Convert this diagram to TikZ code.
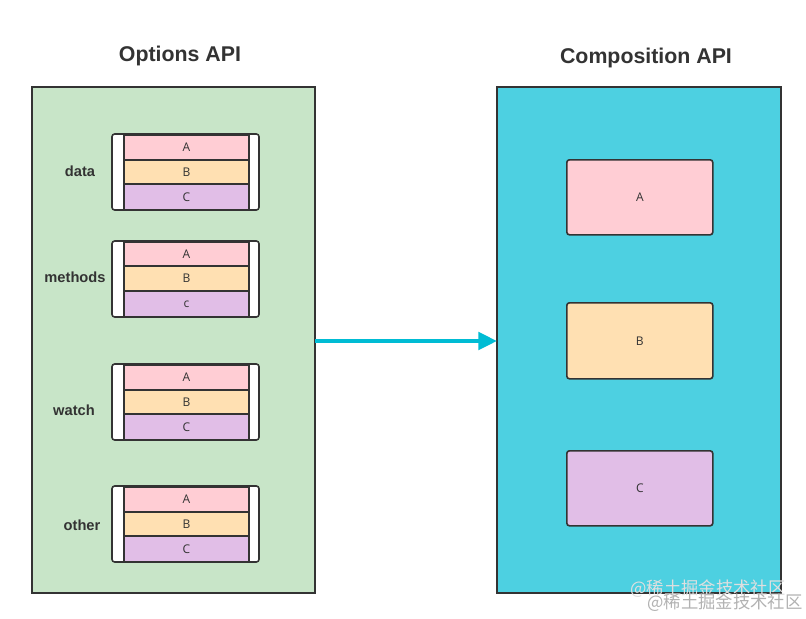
\documentclass[tikz,border=0pt]{standalone}
\usepackage{fontspec}
\setmainfont{Open Sans}
\newfontfamily\titlefont{Liberation Sans}
\newfontfamily\cjk{Noto Sans CJK SC}
\usetikzlibrary{arrows.meta}
\definecolor{pnl}{HTML}{C8E5C8}
\definecolor{cyanp}{HTML}{4DD0E1}
\definecolor{pk}{HTML}{FFCDD4}
\definecolor{og}{HTML}{FFE0B2}
\definecolor{pu}{HTML}{E1BEE7}
\definecolor{ln}{HTML}{333333}
\definecolor{arr}{HTML}{00BCD4}
\tikzset{
 panel/.style={draw=ln,line width=1.2pt},
 grp/.style={draw=ln,fill=white,rounded corners=2pt,line width=1.2pt},
 bar/.style={draw=ln,line width=1.5pt,font=\fontsize{9}{10}\selectfont,text=ln},
 title/.style={font=\titlefont\bfseries\fontsize{16}{18}\selectfont,text=ln},
 lab/.style={font=\titlefont\bfseries\fontsize{11}{13}\selectfont,text=ln},
 big/.style={draw=ln,line width=1.2pt,rounded corners=2pt,font=\fontsize{9}{10}\selectfont,text=ln},
}
\begin{document}
\begin{tikzpicture}[x=0.75pt,y=-0.75pt]
\useasboundingbox (0,0) rectangle (806,618);
\fill[white] (0,0) rectangle (806,618);
\node[title] (t1) at (180,56) {Options API};
\node[title] (t2) at (646,58) {Composition API};
\draw[panel,fill=pnl] (32,87) rectangle (315,593);
\draw[panel,fill=cyanp] (497,87) rectangle (781,593);
\coordinate (pl) at (315,341);
\coordinate (pr) at (497,341);
\draw[arr,line width=3pt,-{Triangle[length=14pt,width=13pt]}] (pl) -- (pr);
\foreach \y/\a/\b/\c/\d/\lx/\lt/\cc [count=\i] in
 {134/159/183/209/171/80/data/C, 241/265/290/316/277/75/methods/c, 364/389/413/439/410/74/watch/C, 486/511/535/561/525/82/other/C}{
 \draw[grp] (112,\y) rectangle (259,\c+1);
 \node[bar,fill=pk,minimum width=125*0.75pt,minimum height=(\a-\y)*0.75pt,inner sep=0pt,anchor=north west] (ga\i) at (123,\y) {A};
 \node[bar,fill=og,minimum width=125*0.75pt,minimum height=(\b-\a)*0.75pt,inner sep=0pt,anchor=north west] (gb\i) at (123,\a) {B};
 \node[bar,fill=pu,minimum width=125*0.75pt,minimum height=(\c-\b)*0.75pt,inner sep=0pt,anchor=north west] (gc\i) at (123,\b) {\cc};
 \node[lab] (l\i) at (\lx,\d) {\lt};
}
\node[big,fill=pk,minimum width=146*0.75pt,minimum height=75*0.75pt,anchor=north west] (A) at (566,159) {A};
\node[big,fill=og,minimum width=146*0.75pt,minimum height=76*0.75pt,anchor=north west] (B) at (566,302) {B};
\node[big,fill=pu,minimum width=146*0.75pt,minimum height=75*0.75pt,anchor=north west] (C) at (566,450) {C};
\node[text=white!75!gray,font=\cjk\fontsize{13}{14}\selectfont] (w1) at (708,589) {@稀土掘金技术社区};
\node[text=gray!60,font=\cjk\fontsize{13}{14}\selectfont] (w2) at (725,603) {@稀土掘金技术社区};
\end{tikzpicture}
\end{document}
